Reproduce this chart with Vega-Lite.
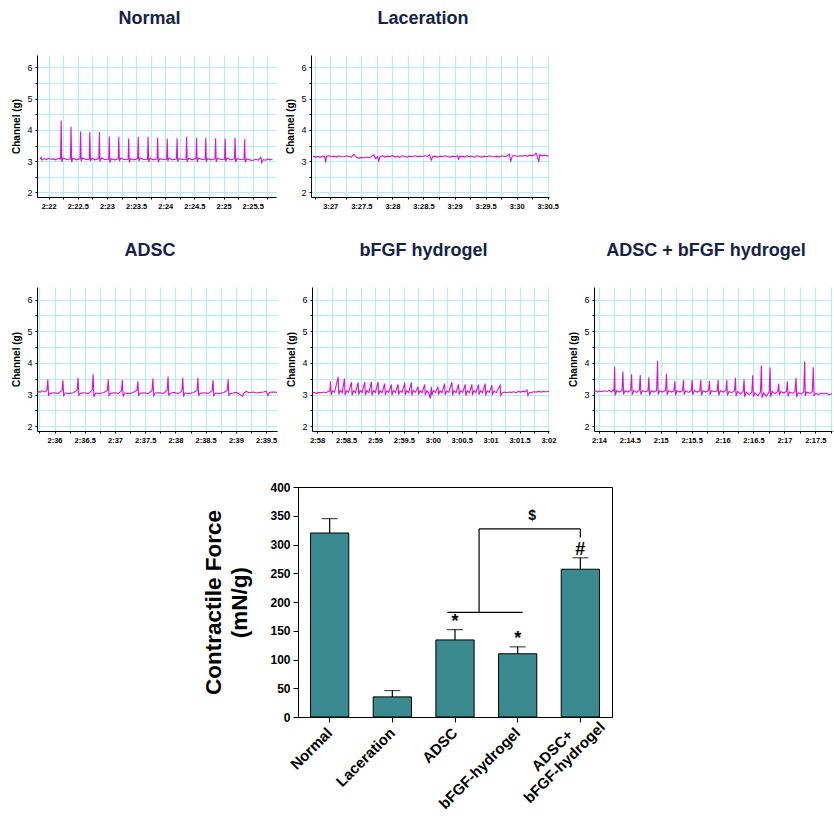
{
  "$schema": "https://vega.github.io/schema/vega-lite/v6.json",
  "padding": {"left": 11, "top": 10, "right": 0, "bottom": 0},
  "background": "white",
  "config": {
    "view": {"stroke": null},
    "font": "Liberation Sans",
    "title": {"font": "Liberation Sans", "fontSize": 18, "fontWeight": "bold", "color": "#14224a", "frame": "group", "offset": 27},
    "axis": {"gridColor": "#aef0f0", "gridWidth": 1, "domainColor": "#000", "tickColor": "#000", "tickSize": 2, "labelFont": "Liberation Sans", "labelFontSize": 9, "labelColor": "#000", "titleFont": "Liberation Sans", "titleFontSize": 10, "titleFontWeight": "bold", "titleColor": "#000", "labelPadding": 3, "titlePadding": 5, "labelOverlap": false, "labelFlush": false},
    "axisX": {"labelFontSize": 7.5, "labelFontWeight": "bold"},
    "line": {"color": "#d810d8", "strokeWidth": 1.1}
  },
  "datasets": {
    "normal": [
      {"t":141.85,"v":3.06},{"t":141.87,"v":3.12},{"t":141.885,"v":3.03},{"t":141.92,"v":3.08},{"t":141.96,"v":3.05},{"t":142.0,"v":3.09},{"t":142.04,"v":3.06},{"t":142.08,"v":3.07},{"t":142.12,"v":3.04},{"t":142.16,"v":3.08},
      {"t":142.205,"v":3.08},{"t":142.215,"v":4.3},{"t":142.225,"v":2.98},{"t":142.25,"v":3.1},{"t":142.305,"v":3.05},
      {"t":142.374,"v":3.07},{"t":142.384,"v":4.1},{"t":142.394,"v":2.97},{"t":142.419,"v":3.09},{"t":142.474,"v":3.04},
      {"t":142.538,"v":3.08},{"t":142.548,"v":3.95},{"t":142.558,"v":3.0},{"t":142.583,"v":3.1},{"t":142.638,"v":3.05},
      {"t":142.696,"v":3.06},{"t":142.706,"v":3.93},{"t":142.716,"v":3.0},{"t":142.741,"v":3.09},{"t":142.796,"v":3.04},
      {"t":142.86,"v":3.08},{"t":142.87,"v":3.93},{"t":142.88,"v":2.99},{"t":142.905,"v":3.1},{"t":142.96,"v":3.05},
      {"t":143.03,"v":3.06},{"t":143.04,"v":3.8},{"t":143.05,"v":2.95},{"t":143.075,"v":3.08},{"t":143.13,"v":3.04},
      {"t":143.193,"v":3.07},{"t":143.203,"v":3.78},{"t":143.213,"v":3.0},{"t":143.238,"v":3.09},{"t":143.293,"v":3.05},
      {"t":143.363,"v":3.06},{"t":143.373,"v":3.72},{"t":143.383,"v":2.96},{"t":143.408,"v":3.08},{"t":143.463,"v":3.04},
      {"t":143.527,"v":3.08},{"t":143.537,"v":3.78},{"t":143.547,"v":3.0},{"t":143.572,"v":3.1},{"t":143.627,"v":3.05},
      {"t":143.696,"v":3.06},{"t":143.706,"v":3.78},{"t":143.716,"v":2.98},{"t":143.741,"v":3.09},{"t":143.796,"v":3.04},
      {"t":143.86,"v":3.07},{"t":143.87,"v":3.75},{"t":143.88,"v":2.96},{"t":143.905,"v":3.08},{"t":143.96,"v":3.05},
      {"t":144.024,"v":3.06},{"t":144.034,"v":3.72},{"t":144.044,"v":3.0},{"t":144.069,"v":3.1},{"t":144.124,"v":3.04},
      {"t":144.193,"v":3.07},{"t":144.203,"v":3.73},{"t":144.213,"v":2.99},{"t":144.238,"v":3.08},{"t":144.293,"v":3.05},
      {"t":144.357,"v":3.06},{"t":144.367,"v":3.78},{"t":144.377,"v":2.98},{"t":144.402,"v":3.09},{"t":144.457,"v":3.04},
      {"t":144.527,"v":3.08},{"t":144.537,"v":3.75},{"t":144.547,"v":2.97},{"t":144.572,"v":3.1},{"t":144.627,"v":3.05},
      {"t":144.685,"v":3.06},{"t":144.695,"v":3.75},{"t":144.705,"v":3.0},{"t":144.73,"v":3.08},{"t":144.785,"v":3.04},
      {"t":144.854,"v":3.07},{"t":144.864,"v":3.73},{"t":144.874,"v":2.98},{"t":144.899,"v":3.09},{"t":144.954,"v":3.05},
      {"t":145.018,"v":3.06},{"t":145.028,"v":3.72},{"t":145.038,"v":2.99},{"t":145.063,"v":3.1},{"t":145.118,"v":3.04},
      {"t":145.188,"v":3.07},{"t":145.198,"v":3.75},{"t":145.208,"v":2.97},{"t":145.233,"v":3.08},{"t":145.288,"v":3.05},
      {"t":145.352,"v":3.06},{"t":145.362,"v":3.7},{"t":145.372,"v":2.96},{"t":145.397,"v":3.07},{"t":145.452,"v":3.04},
      {"t":145.5,"v":3.02},{"t":145.55,"v":3.06},{"t":145.6,"v":3.03},{"t":145.64,"v":3.12},{"t":145.655,"v":2.95},{"t":145.68,"v":3.05},{"t":145.72,"v":3.03},{"t":145.76,"v":3.07},{"t":145.8,"v":3.04},{"t":145.84,"v":3.06}
    ],
    "laceration": [
      {"t":206.72,"v":3.16},{"t":206.76,"v":3.13},{"t":206.8,"v":3.15},{"t":206.84,"v":3.12},{"t":206.88,"v":3.16},{"t":206.91,"v":3.14},{"t":206.925,"v":2.96},{"t":206.94,"v":3.15},{"t":206.98,"v":3.18},{"t":207.02,"v":3.14},
      {"t":207.06,"v":3.16},{"t":207.1,"v":3.13},{"t":207.14,"v":3.17},{"t":207.18,"v":3.15},{"t":207.22,"v":3.14},{"t":207.26,"v":3.17},{"t":207.3,"v":3.15},{"t":207.34,"v":3.13},{"t":207.38,"v":3.22},{"t":207.42,"v":3.12},
      {"t":207.46,"v":3.09},{"t":207.5,"v":3.12},{"t":207.54,"v":3.1},{"t":207.58,"v":3.13},{"t":207.62,"v":3.11},{"t":207.66,"v":3.14},{"t":207.7,"v":3.2},{"t":207.73,"v":3.08},{"t":207.76,"v":3.14},{"t":207.78,"v":3.0},
      {"t":207.8,"v":3.15},{"t":207.84,"v":3.17},{"t":207.88,"v":3.13},{"t":207.92,"v":3.16},{"t":207.96,"v":3.14},{"t":208.0,"v":3.18},{"t":208.04,"v":3.13},{"t":208.08,"v":3.16},{"t":208.12,"v":3.12},{"t":208.16,"v":3.17},
      {"t":208.2,"v":3.15},{"t":208.24,"v":3.13},{"t":208.28,"v":3.16},{"t":208.32,"v":3.14},{"t":208.36,"v":3.17},{"t":208.4,"v":3.15},{"t":208.44,"v":3.16},{"t":208.48,"v":3.14},{"t":208.52,"v":3.18},{"t":208.56,"v":3.15},
      {"t":208.6,"v":3.2},{"t":208.625,"v":3.03},{"t":208.65,"v":3.15},{"t":208.69,"v":3.16},{"t":208.73,"v":3.13},{"t":208.77,"v":3.16},{"t":208.81,"v":3.14},{"t":208.85,"v":3.17},{"t":208.89,"v":3.15},{"t":208.93,"v":3.13},
      {"t":208.97,"v":3.16},{"t":209.01,"v":3.14},{"t":209.05,"v":3.17},{"t":209.065,"v":3.04},{"t":209.08,"v":3.15},{"t":209.12,"v":3.16},{"t":209.16,"v":3.13},{"t":209.2,"v":3.17},{"t":209.24,"v":3.14},{"t":209.28,"v":3.16},
      {"t":209.32,"v":3.12},{"t":209.36,"v":3.17},{"t":209.4,"v":3.15},{"t":209.44,"v":3.13},{"t":209.48,"v":3.16},{"t":209.52,"v":3.14},{"t":209.56,"v":3.17},{"t":209.6,"v":3.15},{"t":209.64,"v":3.14},{"t":209.68,"v":3.16},
      {"t":209.72,"v":3.13},{"t":209.76,"v":3.17},{"t":209.8,"v":3.15},{"t":209.84,"v":3.16},{"t":209.88,"v":3.22},{"t":209.905,"v":3.0},{"t":209.93,"v":3.16},{"t":209.97,"v":3.18},{"t":210.01,"v":3.15},{"t":210.05,"v":3.17},
      {"t":210.09,"v":3.16},{"t":210.13,"v":3.18},{"t":210.17,"v":3.16},{"t":210.21,"v":3.19},{"t":210.25,"v":3.17},{"t":210.29,"v":3.2},{"t":210.31,"v":3.26},{"t":210.33,"v":3.18},{"t":210.355,"v":2.97},{"t":210.37,"v":3.2},
      {"t":210.41,"v":3.17},{"t":210.45,"v":3.19},{"t":210.51,"v":3.16}
    ],
    "adsc": [
      {"t":155.72,"v":3.05},{"t":155.74,"v":3.1},{"t":155.76,"v":3.07},{"t":155.79,"v":3.12},{"t":155.82,"v":3.1},{"t":155.85,"v":3.09},{"t":155.874,"v":3.14},
      {"t":155.889,"v":3.48},{"t":155.901,"v":2.98},{"t":155.929,"v":3.04},{"t":155.989,"v":3.06},{"t":156.059,"v":3.04},{"t":156.124,"v":3.13},
      {"t":156.139,"v":3.45},{"t":156.151,"v":2.97},{"t":156.179,"v":3.05},{"t":156.239,"v":3.03},{"t":156.309,"v":3.06},{"t":156.374,"v":3.14},
      {"t":156.389,"v":3.53},{"t":156.401,"v":2.98},{"t":156.429,"v":3.04},{"t":156.489,"v":3.06},{"t":156.559,"v":3.03},{"t":156.624,"v":3.15},
      {"t":156.639,"v":3.64},{"t":156.651,"v":2.93},{"t":156.679,"v":3.05},{"t":156.739,"v":3.03},{"t":156.809,"v":3.06},{"t":156.874,"v":3.13},
      {"t":156.889,"v":3.48},{"t":156.901,"v":2.97},{"t":156.929,"v":3.04},{"t":156.989,"v":3.06},{"t":157.059,"v":3.04},{"t":157.107,"v":3.12},
      {"t":157.122,"v":3.46},{"t":157.134,"v":2.94},{"t":157.162,"v":3.05},{"t":157.222,"v":3.03},{"t":157.292,"v":3.06},{"t":157.363,"v":3.14},
      {"t":157.378,"v":3.42},{"t":157.39,"v":2.98},{"t":157.418,"v":3.04},{"t":157.478,"v":3.06},{"t":157.548,"v":3.03},{"t":157.613,"v":3.13},
      {"t":157.628,"v":3.51},{"t":157.64,"v":2.97},{"t":157.668,"v":3.05},{"t":157.728,"v":3.06},{"t":157.798,"v":3.04},{"t":157.863,"v":3.14},
      {"t":157.878,"v":3.57},{"t":157.89,"v":2.98},{"t":157.918,"v":3.04},{"t":157.978,"v":3.07},{"t":158.048,"v":3.03},{"t":158.107,"v":3.12},
      {"t":158.122,"v":3.53},{"t":158.134,"v":2.96},{"t":158.162,"v":3.05},{"t":158.222,"v":3.03},{"t":158.292,"v":3.06},{"t":158.357,"v":3.13},
      {"t":158.372,"v":3.53},{"t":158.384,"v":2.98},{"t":158.412,"v":3.04},{"t":158.472,"v":3.06},{"t":158.542,"v":3.04},{"t":158.607,"v":3.12},
      {"t":158.622,"v":3.46},{"t":158.634,"v":2.97},{"t":158.662,"v":3.05},{"t":158.722,"v":3.03},{"t":158.792,"v":3.06},{"t":158.857,"v":3.13},
      {"t":158.872,"v":3.48},{"t":158.884,"v":2.98},{"t":158.912,"v":3.04},
      {"t":158.95,"v":3.05},{"t":159.0,"v":3.07},{"t":159.05,"v":3.03},{"t":159.11,"v":2.95},{"t":159.13,"v":3.05},{"t":159.17,"v":3.1},{"t":159.22,"v":3.06},{"t":159.28,"v":3.08},{"t":159.34,"v":3.05},{"t":159.4,"v":3.07},{"t":159.46,"v":3.08},{"t":159.5,"v":3.11},{"t":159.53,"v":2.97},{"t":159.56,"v":3.07},{"t":159.62,"v":3.08},{"t":159.68,"v":3.07}
    ],
    "bfgf": [
      {"t":177.914,"v":3.05},{"t":177.95,"v":3.07},{"t":177.99,"v":3.04},{"t":178.03,"v":3.07},{"t":178.07,"v":3.06},{"t":178.11,"v":3.08},{"t":178.15,"v":3.06},{"t":178.19,"v":3.1},{"t":178.22,"v":3.12},
      {"t":178.23,"v":3.42},{"t":178.24,"v":2.99},{"t":178.265,"v":3.12},{"t":178.3,"v":3.07},
      {"t":178.363,"v":3.56},{"t":178.373,"v":3.0},{"t":178.398,"v":3.13},{"t":178.433,"v":3.06},
      {"t":178.472,"v":3.51},{"t":178.482,"v":2.99},{"t":178.507,"v":3.12},{"t":178.542,"v":3.07},
      {"t":178.593,"v":3.39},{"t":178.603,"v":2.98},{"t":178.628,"v":3.12},{"t":178.663,"v":3.06},
      {"t":178.708,"v":3.39},{"t":178.718,"v":3.0},{"t":178.743,"v":3.13},{"t":178.778,"v":3.07},
      {"t":178.823,"v":3.4},{"t":178.833,"v":2.99},{"t":178.858,"v":3.12},{"t":178.893,"v":3.06},
      {"t":178.938,"v":3.4},{"t":178.948,"v":2.98},{"t":178.973,"v":3.13},{"t":179.008,"v":3.07},
      {"t":179.053,"v":3.4},{"t":179.063,"v":3.0},{"t":179.088,"v":3.12},{"t":179.123,"v":3.06},
      {"t":179.168,"v":3.35},{"t":179.178,"v":2.99},{"t":179.203,"v":3.12},{"t":179.238,"v":3.07},
      {"t":179.283,"v":3.32},{"t":179.293,"v":2.98},{"t":179.318,"v":3.13},{"t":179.353,"v":3.06},
      {"t":179.399,"v":3.32},{"t":179.409,"v":3.0},{"t":179.434,"v":3.12},{"t":179.469,"v":3.07},
      {"t":179.514,"v":3.37},{"t":179.524,"v":2.99},{"t":179.549,"v":3.12},{"t":179.584,"v":3.06},
      {"t":179.629,"v":3.39},{"t":179.639,"v":2.98},{"t":179.664,"v":3.13},{"t":179.699,"v":3.07},
      {"t":179.744,"v":3.25},{"t":179.754,"v":3.0},{"t":179.779,"v":3.12},{"t":179.814,"v":3.06},
      {"t":179.859,"v":3.32},{"t":179.869,"v":2.99},{"t":179.894,"v":3.12},{"t":179.93,"v":3.05},{"t":179.957,"v":2.88},
      {"t":179.974,"v":3.25},{"t":179.984,"v":2.98},{"t":180.009,"v":3.13},{"t":180.044,"v":3.07},
      {"t":180.089,"v":3.25},{"t":180.099,"v":3.0},{"t":180.124,"v":3.12},{"t":180.159,"v":3.06},
      {"t":180.204,"v":3.35},{"t":180.214,"v":2.99},{"t":180.239,"v":3.12},{"t":180.274,"v":3.07},
      {"t":180.331,"v":3.39},{"t":180.341,"v":2.98},{"t":180.366,"v":3.13},{"t":180.401,"v":3.06},
      {"t":180.446,"v":3.32},{"t":180.456,"v":3.0},{"t":180.481,"v":3.12},{"t":180.516,"v":3.07},
      {"t":180.561,"v":3.32},{"t":180.571,"v":2.97},{"t":180.596,"v":3.12},{"t":180.631,"v":3.06},
      {"t":180.676,"v":3.32},{"t":180.686,"v":2.99},{"t":180.711,"v":3.13},{"t":180.746,"v":3.07},
      {"t":180.791,"v":3.32},{"t":180.801,"v":3.0},{"t":180.826,"v":3.12},{"t":180.861,"v":3.06},
      {"t":180.906,"v":3.35},{"t":180.916,"v":2.98},{"t":180.941,"v":3.12},{"t":180.976,"v":3.07},
      {"t":181.022,"v":3.3},{"t":181.032,"v":2.99},{"t":181.057,"v":3.11},{"t":181.1,"v":3.06},
      {"t":181.165,"v":3.3},{"t":181.175,"v":2.98},{"t":181.2,"v":3.05},
      {"t":181.24,"v":3.08},{"t":181.28,"v":3.06},{"t":181.32,"v":3.08},{"t":181.36,"v":3.07},{"t":181.4,"v":3.09},{"t":181.44,"v":3.06},{"t":181.48,"v":3.1},{"t":181.52,"v":3.08},{"t":181.56,"v":3.11},{"t":181.6,"v":3.09},{"t":181.63,"v":3.15},{"t":181.645,"v":2.97},{"t":181.67,"v":3.06},{"t":181.71,"v":3.07},{"t":181.75,"v":3.09},{"t":181.79,"v":3.08},{"t":181.83,"v":3.1},{"t":181.87,"v":3.08},{"t":181.91,"v":3.1},{"t":181.95,"v":3.09},{"t":182.01,"v":3.1}
    ],
    "combo": [
      {"t":133.92,"v":3.1},{"t":133.95,"v":3.12},{"t":133.98,"v":3.08},{"t":134.01,"v":3.11},{"t":134.05,"v":3.09},{"t":134.09,"v":3.12},{"t":134.13,"v":3.1},{"t":134.17,"v":3.13},{"t":134.2,"v":3.08},{"t":134.23,"v":3.15},{"t":134.243,"v":3.12},
      {"t":134.253,"v":3.88},{"t":134.263,"v":2.98},{"t":134.288,"v":3.12},{"t":134.333,"v":3.08},{"t":134.373,"v":3.13},
      {"t":134.388,"v":3.73},{"t":134.398,"v":3.0},{"t":134.423,"v":3.12},{"t":134.468,"v":3.08},{"t":134.513,"v":3.14},
      {"t":134.528,"v":3.64},{"t":134.538,"v":2.99},{"t":134.563,"v":3.13},{"t":134.608,"v":3.07},{"t":134.653,"v":3.13},
      {"t":134.668,"v":3.62},{"t":134.678,"v":3.0},{"t":134.703,"v":3.12},{"t":134.748,"v":3.09},{"t":134.793,"v":3.12},
      {"t":134.808,"v":3.55},{"t":134.818,"v":2.98},{"t":134.843,"v":3.12},{"t":134.888,"v":3.08},{"t":134.933,"v":3.13},
      {"t":134.948,"v":4.07},{"t":134.958,"v":3.0},{"t":134.983,"v":3.12},{"t":135.028,"v":3.08},{"t":135.078,"v":3.13},
      {"t":135.093,"v":3.66},{"t":135.103,"v":2.99},{"t":135.128,"v":3.12},{"t":135.173,"v":3.08},{"t":135.213,"v":3.12},
      {"t":135.228,"v":3.42},{"t":135.238,"v":2.98},{"t":135.263,"v":3.12},{"t":135.308,"v":3.08},{"t":135.353,"v":3.13},
      {"t":135.368,"v":3.46},{"t":135.378,"v":3.0},{"t":135.403,"v":3.12},{"t":135.448,"v":3.07},{"t":135.493,"v":3.12},
      {"t":135.508,"v":3.46},{"t":135.518,"v":2.99},{"t":135.543,"v":3.13},{"t":135.588,"v":3.08},{"t":135.633,"v":3.12},
      {"t":135.648,"v":3.46},{"t":135.658,"v":2.98},{"t":135.683,"v":3.12},{"t":135.728,"v":3.08},{"t":135.773,"v":3.13},
      {"t":135.788,"v":3.44},{"t":135.798,"v":3.0},{"t":135.823,"v":3.12},{"t":135.868,"v":3.09},{"t":135.913,"v":3.12},
      {"t":135.928,"v":3.46},{"t":135.938,"v":2.98},{"t":135.963,"v":3.12},{"t":136.008,"v":3.08},{"t":136.053,"v":3.13},
      {"t":136.068,"v":3.46},{"t":136.078,"v":2.97},{"t":136.103,"v":3.1},{"t":136.148,"v":3.06},{"t":136.193,"v":3.12},
      {"t":136.208,"v":3.53},{"t":136.218,"v":2.95},{"t":136.243,"v":3.1},{"t":136.288,"v":3.02},{"t":136.333,"v":3.1},
      {"t":136.348,"v":3.48},{"t":136.358,"v":2.93},{"t":136.383,"v":3.08},{"t":136.428,"v":3.0},{"t":136.473,"v":3.08},
      {"t":136.488,"v":3.61},{"t":136.498,"v":2.93},{"t":136.523,"v":3.06},{"t":136.568,"v":2.97},{"t":136.613,"v":3.08},
      {"t":136.628,"v":3.92},{"t":136.638,"v":2.9},{"t":136.663,"v":3.05},{"t":136.708,"v":2.95},{"t":136.753,"v":3.08},
      {"t":136.768,"v":3.86},{"t":136.778,"v":2.93},{"t":136.803,"v":3.1},{"t":136.848,"v":3.03},{"t":136.893,"v":3.1},
      {"t":136.908,"v":3.35},{"t":136.918,"v":2.98},{"t":136.943,"v":3.1},{"t":136.988,"v":3.05},{"t":137.033,"v":3.1},
      {"t":137.048,"v":3.42},{"t":137.058,"v":2.95},{"t":137.083,"v":3.08},{"t":137.128,"v":3.04},{"t":137.173,"v":3.1},
      {"t":137.188,"v":3.53},{"t":137.198,"v":2.93},{"t":137.223,"v":3.06},{"t":137.268,"v":3.02},{"t":137.313,"v":3.08},
      {"t":137.328,"v":4.05},{"t":137.338,"v":2.96},{"t":137.363,"v":3.08},{"t":137.408,"v":3.04},{"t":137.453,"v":3.1},
      {"t":137.468,"v":3.86},{"t":137.48,"v":2.97},{"t":137.51,"v":3.04},{"t":137.55,"v":3.0},{"t":137.6,"v":3.05},{"t":137.64,"v":3.02},{"t":137.68,"v":3.05},{"t":137.72,"v":3.0},{"t":137.77,"v":3.03}
    ],
    "force": [
      {"g":"Normal","v":320,"hi":345},
      {"g":"Laceration","v":35,"hi":46},
      {"g":"ADSC","v":134,"hi":152},
      {"g":"bFGF-hydrogel","v":110,"hi":122},
      {"g":"ADSC+bFGF-hydrogel","v":257,"hi":277}
    ],
    "marks": [
      {"g":"ADSC","y":165,"s":"*"},
      {"g":"bFGF-hydrogel","y":136,"s":"*"},
      {"g":"ADSC+bFGF-hydrogel","y":290,"s":"#"}
    ]
  },
  "vconcat": [
    {
      "hconcat": [
        {
          "width": 239, "height": 142,
          "title": {"text": "Normal", "dx": -7},
          "data": {"name": "normal"},
          "mark": {"type": "line"},
          "encoding": {
            "x": {"field": "t", "type": "quantitative", "title": null, "scale": {"domain": [141.8, 145.9], "nice": false, "zero": false},
              "axis": {"values": [142,142.25,142.5,142.75,143,143.25,143.5,143.75,144,144.25,144.5,144.75,145,145.25,145.5,145.75],
                "labelExpr": "datum.value % 0.5 == 0 ? floor(datum.value/60) + ':' + (datum.value % 60 < 10 ? '0' : '') + format(datum.value % 60, '~g') : ''"}},
            "y": {"field": "v", "type": "quantitative", "title": "Channel (g)", "scale": {"domain": [1.85, 6.4], "nice": false, "zero": false},
              "axis": {"values": [2,2.5,3,3.5,4,4.5,5,5.5,6], "labelExpr": "datum.value % 1 == 0 ? format(datum.value, 'd') : ''"}}
          }
        },
        {
          "width": 238, "height": 142,
          "title": {"text": "Laceration", "dx": -7},
          "data": {"name": "laceration"},
          "mark": {"type": "line"},
          "encoding": {
            "x": {"field": "t", "type": "quantitative", "title": null, "scale": {"domain": [206.69, 210.52], "nice": false, "zero": false},
              "axis": {"values": [206.75,207,207.25,207.5,207.75,208,208.25,208.5,208.75,209,209.25,209.5,209.75,210,210.25,210.5],
                "labelExpr": "datum.value % 0.5 == 0 ? floor(datum.value/60) + ':' + (datum.value % 60 < 10 ? '0' : '') + format(datum.value % 60, '~g') : ''"}},
            "y": {"field": "v", "type": "quantitative", "title": "Channel (g)", "scale": {"domain": [1.85, 6.4], "nice": false, "zero": false},
              "axis": {"values": [2,2.5,3,3.5,4,4.5,5,5.5,6], "labelExpr": "datum.value % 1 == 0 ? format(datum.value, 'd') : ''"}}
          }
        }
      ],
      "spacing": 35,
      "bounds": "flush"
    },
    {
      "vconcat": [
        {
          "hconcat": [
            {
              "width": 240, "height": 144,
              "title": {"text": "ADSC", "dx": -7},
              "data": {"name": "adsc"},
              "mark": {"type": "line"},
              "encoding": {
                "x": {"field": "t", "type": "quantitative", "title": null, "scale": {"domain": [155.71, 159.68], "nice": false, "zero": false},
                  "axis": {"values": [155.75,156,156.25,156.5,156.75,157,157.25,157.5,157.75,158,158.25,158.5,158.75,159,159.25,159.5],
                    "labelExpr": "datum.value % 0.5 == 0 ? floor(datum.value/60) + ':' + (datum.value % 60 < 10 ? '0' : '') + format(datum.value % 60, '~g') : ''"}},
                "y": {"field": "v", "type": "quantitative", "title": "Channel (g)", "scale": {"domain": [1.85, 6.4], "nice": false, "zero": false},
                  "axis": {"values": [2,2.5,3,3.5,4,4.5,5,5.5,6], "labelExpr": "datum.value % 1 == 0 ? format(datum.value, 'd') : ''"}}
              }
            },
            {
              "hconcat": [
                {
                  "width": 237, "height": 144,
                  "title": {"text": "bFGF hydrogel", "dx": -7},
                  "data": {"name": "bfgf"},
                  "mark": {"type": "line"},
                  "encoding": {
                    "x": {"field": "t", "type": "quantitative", "title": null, "scale": {"domain": [177.91, 182.01], "nice": false, "zero": false},
                      "axis": {"values": [178,178.25,178.5,178.75,179,179.25,179.5,179.75,180,180.25,180.5,180.75,181,181.25,181.5,181.75,182],
                        "labelExpr": "datum.value % 0.5 == 0 ? floor(datum.value/60) + ':' + (datum.value % 60 < 10 ? '0' : '') + format(datum.value % 60, '~g') : ''"}},
                    "y": {"field": "v", "type": "quantitative", "title": "Channel (g)", "scale": {"domain": [1.85, 6.4], "nice": false, "zero": false},
                      "axis": {"values": [2,2.5,3,3.5,4,4.5,5,5.5,6], "labelExpr": "datum.value % 1 == 0 ? format(datum.value, 'd') : ''"}}
                  }
                },
                {
                  "width": 238, "height": 144,
                  "title": {"text": "ADSC + bFGF hydrogel", "dx": -7},
                  "data": {"name": "combo"},
                  "mark": {"type": "line"},
                  "encoding": {
                    "x": {"field": "t", "type": "quantitative", "title": null, "scale": {"domain": [133.92, 137.77], "nice": false, "zero": false},
                      "axis": {"values": [134,134.25,134.5,134.75,135,135.25,135.5,135.75,136,136.25,136.5,136.75,137,137.25,137.5,137.75],
                        "labelExpr": "datum.value % 0.5 == 0 ? floor(datum.value/60) + ':' + (datum.value % 60 < 10 ? '0' : '') + format(datum.value % 60, '~g') : ''"}},
                    "y": {"field": "v", "type": "quantitative", "title": "Channel (g)", "scale": {"domain": [1.85, 6.4], "nice": false, "zero": false},
                      "axis": {"values": [2,2.5,3,3.5,4,4.5,5,5.5,6], "labelExpr": "datum.value % 1 == 0 ? format(datum.value, 'd') : ''"}}
                  }
                }
              ],
              "spacing": 45,
              "bounds": "flush"
            }
          ],
          "spacing": 35,
          "bounds": "flush"
        },
        {
          "hconcat": [
            {
              "width": 241, "height": 230,
              "data": {"values": []},
              "mark": {"type": "point"},
              "encoding": {}
            },
            {
              "width": 314, "height": 230,
              "view": {"stroke": "#000", "strokeWidth": 1},
              "layer": [
                {
                  "data": {"name": "force"},
                  "mark": {"type": "bar", "color": "#3a8a8f", "stroke": "#000", "strokeWidth": 1},
                  "encoding": {
                    "x": {"field": "g", "type": "nominal", "title": null,
                      "scale": {"domain": ["Normal","Laceration","ADSC","bFGF-hydrogel","ADSC+bFGF-hydrogel"], "paddingInner": 0.39, "paddingOuter": 0.2},
                      "axis": {"grid": false, "labelAngle": -45, "labelFontSize": 15, "labelFontWeight": "bold", "tickSize": 5, "labelLimit": 300,
                        "labelAlign": {"condition": {"test": "datum.value == 'ADSC+bFGF-hydrogel'", "value": "center"}, "value": "right"},
                        "labelBaseline": "middle",
                        "labelPadding": {"condition": {"test": "datum.value == 'ADSC+bFGF-hydrogel'", "value": 28}, "value": 8},
                        "labelOffset": {"condition": {"test": "datum.value == 'ADSC+bFGF-hydrogel'", "value": -28}, "value": 0},
                        "labelExpr": "datum.label == 'ADSC+bFGF-hydrogel' ? ['ADSC+', 'bFGF-hydrogel'] : datum.label"}},
                    "y": {"field": "v", "type": "quantitative", "title": ["Contractile Force", "(mN/g)"],
                      "scale": {"domain": [0, 400], "nice": false},
                      "axis": {"grid": false, "values": [0,50,100,150,200,250,300,350,400], "labelOverlap": false, "labelFontSize": 12, "labelFontWeight": "bold", "tickSize": 5, "titleFontSize": 22.5, "titleLineHeight": 26, "titlePadding": 18}}
                  }
                },
                {
                  "data": {"name": "force"},
                  "mark": {"type": "rule", "color": "#000", "strokeWidth": 1.2},
                  "encoding": {
                    "x": {"field": "g", "type": "nominal", "title": null},
                    "y": {"field": "v", "type": "quantitative", "title": ["Contractile Force", "(mN/g)"],
                      "axis": {"grid": false, "values": [0,50,100,150,200,250,300,350,400], "labelOverlap": false, "labelFontSize": 12, "labelFontWeight": "bold", "tickSize": 5, "titleFontSize": 22.5, "titleLineHeight": 26, "titlePadding": 18}},
                    "y2": {"field": "hi"}
                  }
                },
                {
                  "data": {"name": "force"},
                  "mark": {"type": "tick", "color": "#000", "thickness": 1.2, "size": 16, "orient": "horizontal"},
                  "encoding": {
                    "x": {"field": "g", "type": "nominal", "title": null},
                    "y": {"field": "hi", "type": "quantitative", "title": ["Contractile Force", "(mN/g)"],
                      "axis": {"grid": false, "values": [0,50,100,150,200,250,300,350,400], "labelOverlap": false, "labelFontSize": 12, "labelFontWeight": "bold", "tickSize": 5, "titleFontSize": 22.5, "titleLineHeight": 26, "titlePadding": 18}}
                  }
                },
                {
                  "data": {"name": "marks"},
                  "mark": {"type": "text", "fontSize": 18, "fontWeight": "bold", "color": "#000", "baseline": "middle", "font": "Liberation Sans"},
                  "encoding": {
                    "x": {"field": "g", "type": "nominal", "title": null},
                    "y": {"field": "y", "type": "quantitative", "title": ["Contractile Force", "(mN/g)"],
                      "axis": {"grid": false, "values": [0,50,100,150,200,250,300,350,400], "labelOverlap": false, "labelFontSize": 12, "labelFontWeight": "bold", "tickSize": 5, "titleFontSize": 22.5, "titleLineHeight": 26, "titlePadding": 18}},
                    "text": {"field": "s"}
                  }
                },
                {
                  "data": {"values": [{"g": "bFGF-hydrogel", "y": 350, "s": "$"}]},
                  "mark": {"type": "text", "fontSize": 14, "fontWeight": "bold", "color": "#000", "baseline": "middle", "font": "Liberation Sans"},
                  "encoding": {
                    "x": {"field": "g", "type": "nominal", "title": null, "bandPosition": 0.88},
                    "y": {"field": "y", "type": "quantitative", "title": ["Contractile Force", "(mN/g)"],
                      "axis": {"grid": false, "values": [0,50,100,150,200,250,300,350,400], "labelOverlap": false, "labelFontSize": 12, "labelFontWeight": "bold", "tickSize": 5, "titleFontSize": 22.5, "titleLineHeight": 26, "titlePadding": 18}},
                    "text": {"field": "s"}
                  }
                },
                {
                  "data": {"values": [{"g": "ADSC", "b": "bFGF-hydrogel", "y": 182}]},
                  "mark": {"type": "rule", "color": "#000", "strokeWidth": 1.2},
                  "encoding": {
                    "x": {"field": "g", "type": "nominal", "title": null, "bandPosition": 0.3},
                    "x2": {"field": "b", "bandPosition": 0.63},
                    "y": {"field": "y", "type": "quantitative", "title": ["Contractile Force", "(mN/g)"],
                      "axis": {"grid": false, "values": [0,50,100,150,200,250,300,350,400], "labelOverlap": false, "labelFontSize": 12, "labelFontWeight": "bold", "tickSize": 5, "titleFontSize": 22.5, "titleLineHeight": 26, "titlePadding": 18}}
                  }
                },
                {
                  "data": {"values": [{"g": "ADSC", "y": 182, "y2": 327}]},
                  "mark": {"type": "rule", "color": "#000", "strokeWidth": 1.2},
                  "encoding": {
                    "x": {"field": "g", "type": "nominal", "title": null, "bandPosition": 1.13},
                    "y": {"field": "y", "type": "quantitative", "title": ["Contractile Force", "(mN/g)"],
                      "axis": {"grid": false, "values": [0,50,100,150,200,250,300,350,400], "labelOverlap": false, "labelFontSize": 12, "labelFontWeight": "bold", "tickSize": 5, "titleFontSize": 22.5, "titleLineHeight": 26, "titlePadding": 18}},
                    "y2": {"field": "y2"}
                  }
                },
                {
                  "data": {"values": [{"g": "ADSC", "b": "ADSC+bFGF-hydrogel", "y": 327}]},
                  "mark": {"type": "rule", "color": "#000", "strokeWidth": 1.2},
                  "encoding": {
                    "x": {"field": "g", "type": "nominal", "title": null, "bandPosition": 1.13},
                    "x2": {"field": "b", "bandPosition": 0.5},
                    "y": {"field": "y", "type": "quantitative", "title": ["Contractile Force", "(mN/g)"],
                      "axis": {"grid": false, "values": [0,50,100,150,200,250,300,350,400], "labelOverlap": false, "labelFontSize": 12, "labelFontWeight": "bold", "tickSize": 5, "titleFontSize": 22.5, "titleLineHeight": 26, "titlePadding": 18}}
                  }
                },
                {
                  "data": {"values": [{"g": "ADSC+bFGF-hydrogel", "y": 327, "y2": 312}]},
                  "mark": {"type": "rule", "color": "#000", "strokeWidth": 1.2},
                  "encoding": {
                    "x": {"field": "g", "type": "nominal", "title": null},
                    "y": {"field": "y", "type": "quantitative", "title": ["Contractile Force", "(mN/g)"],
                      "axis": {"grid": false, "values": [0,50,100,150,200,250,300,350,400], "labelOverlap": false, "labelFontSize": 12, "labelFontWeight": "bold", "tickSize": 5, "titleFontSize": 22.5, "titleLineHeight": 26, "titlePadding": 18}},
                    "y2": {"field": "y2"}
                  }
                }
              ]
            }
          ],
          "spacing": 20,
          "bounds": "flush"
        }
      ],
      "spacing": 36
    }
  ],
  "spacing": 32
}
